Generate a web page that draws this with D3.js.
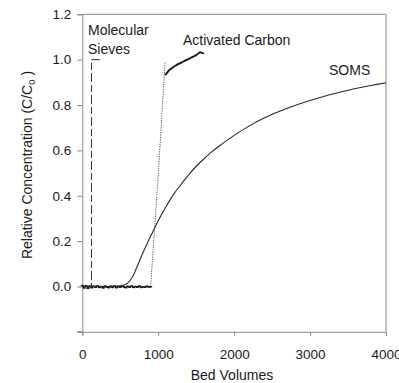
<!DOCTYPE html>
<html>
<head>
<meta charset="utf-8">
<script src="https://cdn.jsdelivr.net/npm/d3@7"></script>
<style>
  body { margin: 0; background: #fff; }
  text { font-family: "Liberation Sans", Arial, sans-serif; }
</style>
</head>
<body>
<svg id="chart" width="399" height="383"></svg>
<script>
// data
const xTicks = [0, 1000, 2000, 3000, 4000];
const yTicks = [-0.2, 0.0, 0.2, 0.4, 0.6, 0.8, 1.0, 1.2];

// SOMS breakthrough (bed volumes, C/C0)
const somsBV = [0, 100, 200, 300, 400, 500, 550, 600, 650, 700, 750, 800, 850, 900, 950, 1000, 1100, 1200, 1300, 1400, 1500, 1600, 1700, 1800, 2000, 2200, 2400, 2600, 2800, 3000, 3200, 3400, 3600, 3800, 4000];
const somsC = [0.002, 0.0, 0.001, -0.001, 0.001, 0.003, 0.006, 0.016, 0.036, 0.07, 0.11, 0.15, 0.186, 0.222, 0.256, 0.29, 0.35, 0.405, 0.45, 0.492, 0.53, 0.562, 0.592, 0.618, 0.666, 0.708, 0.744, 0.773, 0.798, 0.82, 0.84, 0.857, 0.873, 0.886, 0.898];

// activated carbon: zero section (markers), dotted jump, saturated section
const carbonZeroBV = [0, 25, 50, 75, 100, 125, 150, 175, 200, 225, 250, 275, 300, 325, 350, 375, 400, 425, 450, 475, 500, 525, 550, 575, 600, 625, 650, 675, 700, 725, 750, 775, 800, 825, 850, 875, 900];
const carbonZeroC = [0.004, -0.006, 0.003, -0.008, 0.002, -0.005, 0.001, -0.003, 0.002, -0.004, 0.0, -0.006, 0.002, -0.003, -0.005, 0.001, -0.004, 0.002, -0.005, 0.0, -0.003, 0.003, -0.002, -0.005, 0.001, -0.003, 0.002, -0.004, 0.0, -0.003, 0.002, -0.004, -0.001, -0.003, 0.001, -0.002, -0.001];
const carbonJumpBV = [900, 1000, 1090];
const carbonJumpC = [0.0, 0.49, 0.99];
const carbonSatBV = [1100, 1130, 1160, 1200, 1250, 1300, 1350, 1400, 1450, 1500, 1550, 1590];
const carbonSatC = [0.935, 0.948, 0.958, 0.968, 0.978, 0.986, 0.995, 1.003, 1.012, 1.02, 1.032, 1.028];

// molecular sieves (drawn from the top corner down)
const sievesBV = [235, 121, 121, 0];
const sievesC = [1.0, 1.0, 0.0, 0.0];

const labels = [
  { txt: "Molecular", x: 88, y: 35, anchor: "start" },
  { txt: "Sieves", x: 88, y: 53.5, anchor: "start" },
  { txt: "Activated Carbon", x: 183, y: 45, anchor: "start" },
  { txt: "SOMS", x: 329, y: 75, anchor: "start" }
];

const axisColor = "#8a8a8a";
const inkColor = "#1a1a1a";

function drawTxt(svg, tx, ty, txts, fill, size, anchor = 'start') {
  return svg.append("text")
    .attr("x", tx)
    .attr("y", ty)
    .attr("fill", fill)
    .attr("font-size", size)
    .style("text-anchor", anchor)
    .text(txts);
}

function drawLine(svg, d, stroke, width, dash = "0") {
  return svg.append("path")
    .attr("d", d)
    .attr("stroke", stroke)
    .attr("stroke-width", width)
    .attr("stroke-dasharray", dash)
    .attr("fill", "none");
}

function zip(xs, ys) {
  return xs.map((v, i) => [v, ys[i]]);
}

const svg = d3.select("#chart");

const x = d3.scaleLinear().domain([0, 4000]).range([82.3, 386]);
const y = d3.scaleLinear().domain([-0.2, 1.2]).range([331.8, 14.3]);

// frame (top + right)
drawLine(svg, `M${x(0)},${y(1.2)}H${x(4000)}V${y(-0.2)}`, axisColor, 1);

// axes
const yAxis = d3.axisLeft(y).tickValues(yTicks).tickSize(5).tickPadding(6)
  .tickFormat(d => d < 0 ? "" : d3.format(".1f")(d));
const gy = svg.append("g").attr("transform", `translate(${x(0)},0)`).call(yAxis);

const xAxis = d3.axisBottom(x).tickValues(xTicks).tickSize(4).tickPadding(14)
  .tickFormat(d3.format("d"));
const gx = svg.append("g").attr("transform", `translate(0,${y(-0.2)})`).call(xAxis);

[gx, gy].forEach(g => {
  g.select(".domain").attr("stroke", axisColor);
  g.selectAll(".tick line").attr("stroke", axisColor);
  g.selectAll(".tick text").attr("fill", inkColor).attr("font-size", 13.5)
    .attr("font-family", "Liberation Sans, Arial, sans-serif");
});
// extend axes lines so they cross at the corner
drawLine(svg, `M${x(0) - 5},${y(-0.2)}H${x(0)}`, axisColor, 1);

// axis titles
drawTxt(svg, 232, 380, "Bed Volumes", inkColor, 14, "middle");
const yl = svg.append("text")
  .attr("transform", "translate(32,165) rotate(-90)")
  .attr("fill", inkColor)
  .attr("font-size", 14)
  .style("text-anchor", "middle");
yl.append("tspan").text("Relative Concentration (C/C");
yl.append("tspan").attr("font-size", 9.5).attr("dy", 3).text("0");
yl.append("tspan").attr("dy", -3).text(" )");

const line = d3.line().x(d => x(d[0])).y(d => y(d[1]));
const curve = d3.line().x(d => x(d[0])).y(d => y(d[1])).curve(d3.curveCatmullRom);

// activated carbon zero section with markers
drawLine(svg, line(zip(carbonZeroBV, carbonZeroC)), inkColor, 1.3);
svg.append("g").selectAll("rect")
  .data(zip(carbonZeroBV, carbonZeroC))
  .join("rect")
  .attr("x", d => x(d[0]) - 1.5)
  .attr("y", d => y(d[1]) - 0.6)
  .attr("width", 3)
  .attr("height", 1.4)
  .attr("fill", inkColor);

// activated carbon jump (dotted)
drawLine(svg, line(zip(carbonJumpBV, carbonJumpC)), "#555", 1, "1.2,1.2");

// activated carbon saturated section
drawLine(svg, curve(zip(carbonSatBV, carbonSatC)), inkColor, 1.8);
svg.append("g").selectAll("circle")
  .data(zip(carbonSatBV, carbonSatC))
  .join("circle")
  .attr("cx", d => x(d[0]))
  .attr("cy", d => y(d[1]))
  .attr("r", 1)
  .attr("fill", inkColor);

// molecular sieves (dashed)
drawLine(svg, line(zip(sievesBV, sievesC)), "#333", 1, "9,3,7,3");

// SOMS
drawLine(svg, curve(zip(somsBV, somsC)), "#2a2a2a", 1.1);

// annotations
labels.forEach(l => drawTxt(svg, l.x, l.y, l.txt, inkColor, 14, l.anchor));
</script>
</body>
</html>
